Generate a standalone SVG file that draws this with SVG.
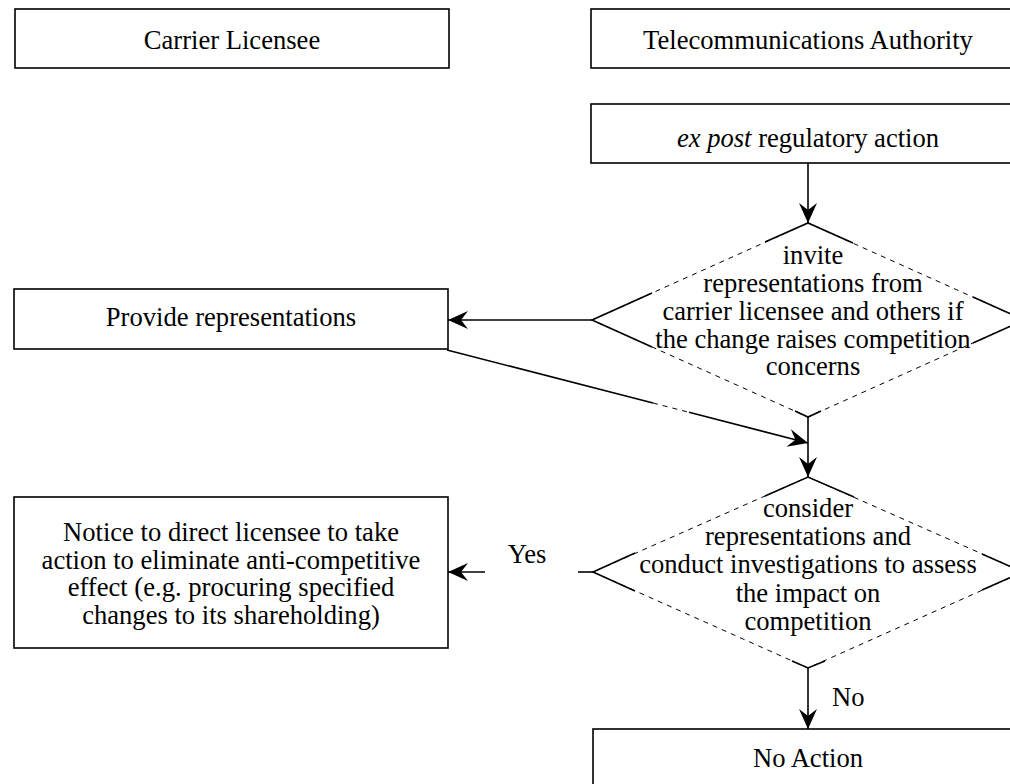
<svg xmlns="http://www.w3.org/2000/svg" width="1010" height="784" viewBox="0 0 1010 784">
<style>
.box{fill:#fff;stroke:#000;stroke-width:1.6}
.t{font-family:"Liberation Serif","Times New Roman",serif;font-size:26.6px;fill:#000;text-anchor:middle}
.dash{fill:none;stroke:#000;stroke-width:1;stroke-dasharray:5 5}
.solid{fill:none;stroke:#000;stroke-width:1.6}
.con{fill:none;stroke:#000;stroke-width:1.6}
</style>
<defs>
<marker id="ah" viewBox="-21 -10 22 20" markerWidth="22" markerHeight="20" refX="0" refY="0" orient="auto" markerUnits="userSpaceOnUse">
<path d="M0,0 L-20,-9 L-13,0 L-20,9 Z" fill="#000"/>
</marker>
</defs>
<rect width="1010" height="784" fill="#fff"/>
<g id="carrier">
<rect class="box" x="15" y="9" width="434" height="59"/>
<text class="t" x="232" y="49">Carrier Licensee</text>
</g>
<g id="authority">
<rect class="box" x="591" y="9" width="440" height="59"/>
<text class="t" x="808" y="49">Telecommunications Authority</text>
</g>
<g id="expost">
<rect class="box" x="591" y="104" width="440" height="59"/>
<text class="t" x="808" y="147"><tspan font-style="italic">ex post</tspan> regulatory action</text>
</g>
<g id="invite">
<polygon class="dash" points="808,223 1024,320 808,417 592,320"/>
<polyline class="solid" points="765,242 808,223 853,243"/>
<polyline class="solid" points="652,293 592,320 652,347"/>
<polyline class="solid" points="973,297 1024,320 973,343"/>
<polyline class="solid" points="795,411 808,417 821,411"/>
<text class="t" x="813" y="264">invite</text>
<text class="t" x="813" y="292">representations from</text>
<text class="t" x="813" y="320">carrier licensee and others if</text>
<text class="t" x="813" y="347.5">the change raises competition</text>
<text class="t" x="813" y="375">concerns</text>
</g>
<g id="provide">
<rect class="box" x="14" y="289" width="434" height="60"/>
<text class="t" x="231" y="326">Provide representations</text>
</g>
<g id="consider">
<polygon class="dash" points="808,477 1023,572 808,668 593,572"/>
<polyline class="solid" points="765,496 808,477 854,497"/>
<polyline class="solid" points="635,553 593,572 635,591"/>
<polyline class="solid" points="982,554 1023,572 982,590"/>
<polyline class="solid" points="792,661 808,668 825,661"/>
<text class="t" x="808" y="517">consider</text>
<text class="t" x="808" y="545">representations and</text>
<text class="t" x="808" y="573">conduct investigations to assess</text>
<text class="t" x="808" y="602">the impact on</text>
<text class="t" x="808" y="630">competition</text>
</g>
<g id="notice">
<rect class="box" x="14" y="497" width="434" height="151"/>
<text class="t" x="231" y="541">Notice to direct licensee to take</text>
<text class="t" x="231" y="568.5">action to eliminate anti-competitive</text>
<text class="t" x="231" y="596">effect (e.g. procuring specified</text>
<text class="t" x="231" y="623.5">changes to its shareholding)</text>
</g>
<g id="noaction">
<rect class="box" x="593" y="729" width="440" height="70"/>
<text class="t" x="808" y="767">No Action</text>
</g>
<g id="connectors">
<line class="con" x1="808" y1="163" x2="808" y2="223" marker-end="url(#ah)"/>
<line class="con" x1="592" y1="320" x2="448" y2="320" marker-end="url(#ah)"/>
<line class="con" x1="447" y1="350" x2="653" y2="403"/>
<line class="dash" x1="653" y1="403" x2="689" y2="412.3"/>
<line class="con" x1="689" y1="412.3" x2="808" y2="443" marker-end="url(#ah)"/>
<line class="con" x1="808" y1="417" x2="808" y2="477" marker-end="url(#ah)"/>
<line class="con" x1="593" y1="572" x2="578" y2="572"/>
<line class="con" x1="485" y1="572" x2="448" y2="572" marker-end="url(#ah)"/>
<text class="t" x="527" y="563">Yes</text>
<line class="con" x1="808" y1="668" x2="808" y2="729" marker-end="url(#ah)"/>
<text class="t" x="832" y="706" style="text-anchor:start">No</text>
</g>
</svg>
